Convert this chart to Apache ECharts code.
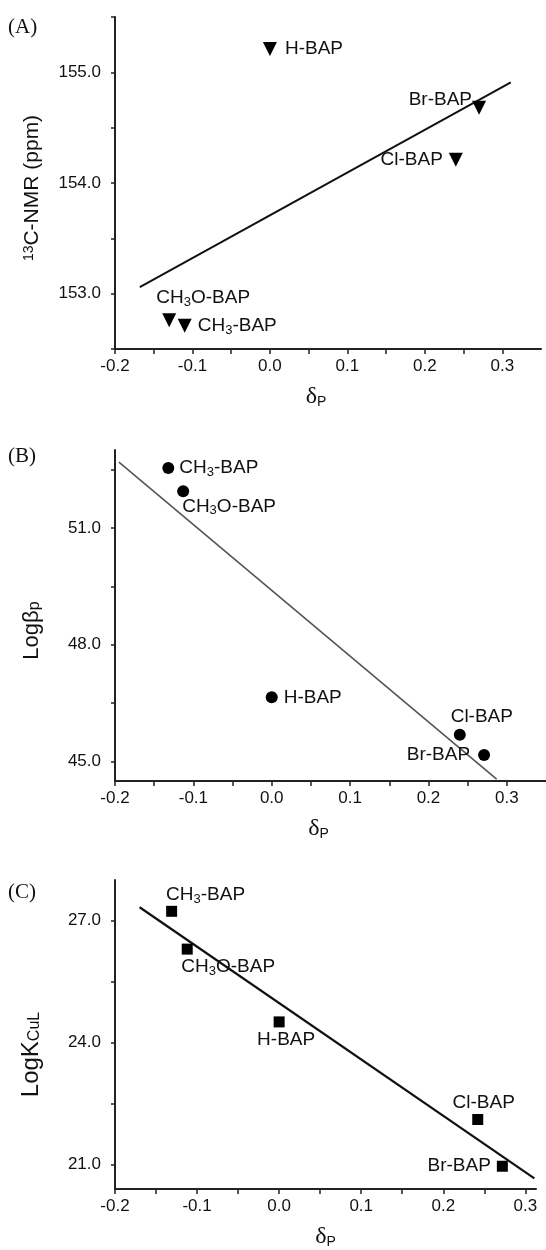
<!doctype html>
<html>
<head>
<meta charset="utf-8">
<title>Hammett plots</title>
<script src="https://cdn.jsdelivr.net/npm/echarts@6/dist/echarts.min.js"></script>
<style>
    html, body{ margin:0; padding:0; background:#fff; }
    #chartBox{ width:546px; height:1250px; }
</style>
</head>
<body>
<div id="chartBox"></div>
<script>
    // compound labels (3 -> subscript)
    var namesA = ['H-BAP', 'Br-BAP', 'Cl-BAP', 'CH3O-BAP', 'CH3-BAP'];
    var namesB = ['CH3-BAP', 'CH3O-BAP', 'H-BAP', 'Cl-BAP', 'Br-BAP'];
    var namesC = ['CH3-BAP', 'CH3O-BAP', 'H-BAP', 'Cl-BAP', 'Br-BAP'];

    // (A) 13C-NMR vs sigma_p
    var sigmaA = [0.0, 0.27, 0.24, -0.13, -0.11];
    var nmrA = [155.21, 154.68, 154.21, 152.76, 152.71];
    var fitXA = [-0.168, 0.311];
    var fitYA = [153.06, 154.91];

    // (B) log beta_p
    var sigmaB = [-0.132, -0.113, 0.0, 0.24, 0.271];
    var logBetaB = [52.54, 51.94, 46.65, 45.69, 45.17];
    var fitXB = [-0.195, 0.287];
    var fitYB = [52.69, 44.55];

    // (C) log K_CuL
    var sigmaC = [-0.131, -0.112, 0.0, 0.242, 0.272];
    var logKC = [27.23, 26.30, 24.51, 22.11, 20.96];
    var fitXC = [-0.170, 0.311];
    var fitYC = [27.33, 20.66];

    // ticks
    var xTicks = [-0.2, -0.15, -0.1, -0.05, 0, 0.05, 0.1, 0.15, 0.2, 0.25, 0.3];
    var xLabels = [-0.2, -0.1, 0, 0.1, 0.2, 0.3];
    var yTicksA = [152.5, 153, 153.5, 154, 154.5, 155, 155.5];
    var yLabelsA = [153, 154, 155];
    var yTicksB = [45, 46.5, 48, 49.5, 51, 52.5];
    var yLabelsB = [45, 48, 51];
    var yTicksC = [21, 22.5, 24, 25.5, 27];
    var yLabelsC = [21, 24, 27];

    // label placement for each point (layout only)
    var labPosA = [
        {position:'right', distance:8},
        {position:'left', distance:0, offset:[0,-8]},
        {position:'left', distance:6},
        {position:'top', distance:4, offset:[34,0]},
        {position:'right', distance:6}
    ];
    var labPosB = [
        {position:'right', distance:5},
        {position:'right', distance:5, offset:[-12,15]},
        {position:'right', distance:6},
        {position:'top', distance:1, offset:[22,0]},
        {position:'left', distance:8}
    ];
    var labPosC = [
        {position:'top', distance:0, offset:[34,0]},
        {position:'bottom', distance:1, offset:[41,0]},
        {position:'bottom', distance:1, offset:[7,0]},
        {position:'top', distance:0, offset:[6,0]},
        {position:'left', distance:6}
    ];

    var sans = "'Liberation Sans', Arial, sans-serif";
    var serif = "'Liberation Serif', 'Times New Roman', serif";
    var subRich = {
        s: {fontSize: 13, fontFamily: sans, color: '#111', verticalAlign: 'bottom', lineHeight: 11}
    };

    function richName(n){
        return n.replace('3', '{s|3}');
    }

    function pointData(xs, ys, names, pos){
        var out = [];
        for (var i = 0; i < xs.length; i++) {
            var lab = {show: true, formatter: richName(names[i])};
            for (var k in pos[i]) lab[k] = pos[i][k];
            out.push({value: [xs[i], ys[i]], label: lab});
        }
        return out;
    }

    function pairs(xs, ys){
        var out = [];
        for (var i = 0; i < xs.length; i++) out.push([xs[i], ys[i]]);
        return out;
    }

    function fmt1(v){ return Number(v).toFixed(1); }

    function xAxisCfg(idx, max, padRight){
        return {
            type: 'value', gridIndex: idx, min: -0.2, max: max,
            name: '{d|δ}{s|P}', nameLocation: 'middle', nameGap: 36,
            nameTextStyle: {
                padding: [0, padRight, 0, 0],
                rich: {
                    d: {fontFamily: serif, fontSize: 24, color: '#111', lineHeight: 24},
                    s: {fontFamily: sans, fontSize: 14, color: '#111', verticalAlign: 'bottom', lineHeight: 12}
                }
            },
            axisLine: {onZero: false, lineStyle: {color: '#222', width: 2}},
            axisTick: {show: true, length: 5, customValues: xTicks, lineStyle: {color: '#222', width: 1.5}},
            axisLabel: {customValues: xLabels, formatter: fmt1, fontSize: 17, fontFamily: sans, color: '#111', margin: 9},
            splitLine: {show: false}
        };
    }

    function yAxisCfg(idx, min, max, ticks, labels, name, size, gap, shift){
        return {
            type: 'value', gridIndex: idx, min: min, max: max,
            name: name, nameLocation: 'middle', nameGap: gap,
            nameTextStyle: {
                fontSize: size, fontFamily: sans, color: '#111',
                padding: [0, shift, 0, 0],
                rich: {
                    sup: {fontSize: 14, fontFamily: sans, color: '#111', verticalAlign: 'top', lineHeight: 12},
                    sub: {fontSize: 16, fontFamily: sans, color: '#111', verticalAlign: 'bottom', lineHeight: 14}
                }
            },
            axisLine: {show: true, onZero: false, lineStyle: {color: '#222', width: 2}},
            axisTick: {show: true, length: 4, customValues: ticks, lineStyle: {color: '#222', width: 1.5}},
            axisLabel: {customValues: labels, formatter: fmt1, fontSize: 17, fontFamily: sans, color: '#111', margin: 14},
            splitLine: {show: false}
        };
    }

    function scatterCfg(idx, xs, ys, names, pos, symbol, size, rot){
        return {
            type: 'scatter', xAxisIndex: idx, yAxisIndex: idx,
            symbol: symbol, symbolSize: size, symbolRotate: rot,
            itemStyle: {color: '#000', opacity: 1},
            label: {fontSize: 19, fontFamily: sans, color: '#111', lineHeight: 22, rich: subRich},
            data: pointData(xs, ys, names, pos),
            z: 3
        };
    }

    function fitCfg(idx, xs, ys, color, width){
        return {
            type: 'line', xAxisIndex: idx, yAxisIndex: idx,
            showSymbol: false, silent: true,
            lineStyle: {color: color, width: width},
            data: pairs(xs, ys),
            z: 2
        };
    }

    var myChart = echarts.init(document.getElementById('chartBox'));
    var option = {
        animation: false,
        backgroundColor: '#fff',
        grid: [
            {left: 115, top: 17, width: 426, height: 332},
            {left: 115, top: 450, width: 431, height: 331},
            {left: 115, top: 880, width: 421, height: 310}
        ],
        xAxis: [
            xAxisCfg(0, 0.35, 24),
            xAxisCfg(1, 0.35, 24),
            xAxisCfg(2, 0.313, 0)
        ],
        yAxis: [
            yAxisCfg(0, 152.5, 155.5, yTicksA, yLabelsA, '{sup|13}C-NMR (ppm)', 21, 72, 10),
            yAxisCfg(1, 44.5, 53, yTicksB, yLabelsB, 'Logβ{sub|p}', 22, 72, 30),
            yAxisCfg(2, 20.4, 28, yTicksC, yLabelsC, 'LogK{sub|CuL}', 24, 72, 40)
        ],
        graphic: [
            {type: 'text', left: 8, top: 17, style: {text: '(A)', font: '21px ' + serif, fill: '#111'}},
            {type: 'text', left: 8, top: 446, style: {text: '(B)', font: '21px ' + serif, fill: '#111'}},
            {type: 'text', left: 8, top: 882, style: {text: '(C)', font: '21px ' + serif, fill: '#111'}}
        ],
        series: [
            fitCfg(0, fitXA, fitYA, '#111', 2),
            scatterCfg(0, sigmaA, nmrA, namesA, labPosA, 'triangle', 14, 180),
            fitCfg(1, fitXB, fitYB, '#555', 1.6),
            scatterCfg(1, sigmaB, logBetaB, namesB, labPosB, 'circle', 12, 0),
            fitCfg(2, fitXC, fitYC, '#111', 2.2),
            scatterCfg(2, sigmaC, logKC, namesC, labPosC, 'rect', 11, 0)
        ]
    };
    myChart.setOption(option);
</script>
</body>
</html>
